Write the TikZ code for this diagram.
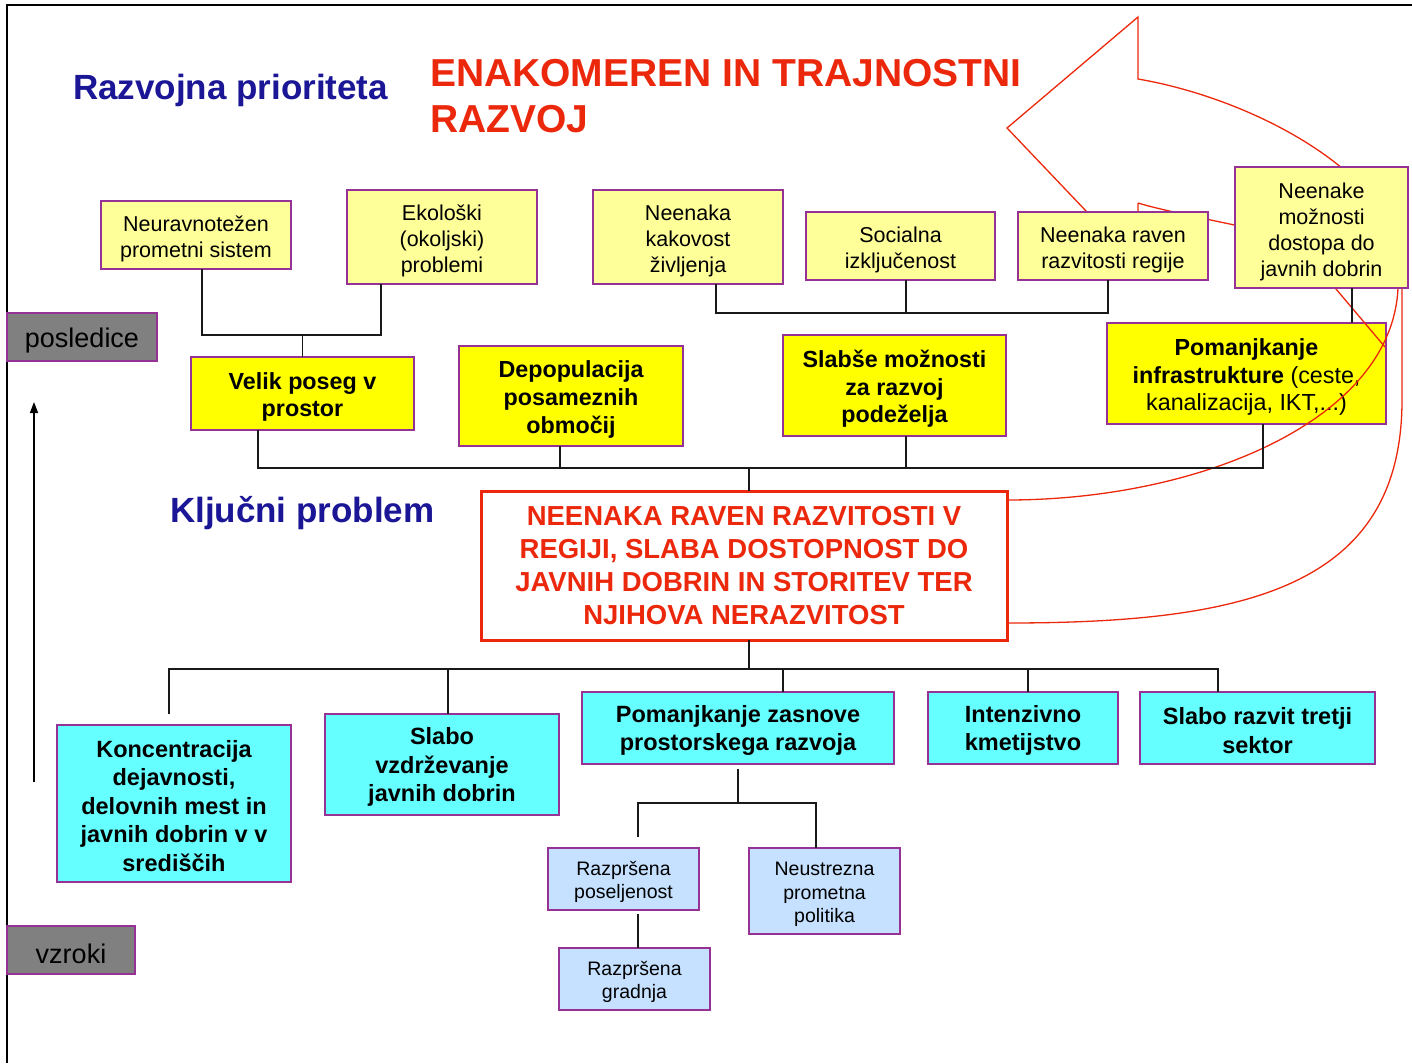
\documentclass[tikz,border=0pt]{standalone}
\usepackage{fontspec}
\setmainfont{Liberation Sans}
\usetikzlibrary{arrows.meta}
\definecolor{lyel}{RGB}{255,255,153}
\definecolor{yel}{RGB}{255,255,0}
\definecolor{cyanc}{RGB}{102,255,255}
\definecolor{lblue}{RGB}{197,225,255}
\definecolor{boxc}{RGB}{150,50,150}
\definecolor{grayc}{RGB}{128,128,128}
\definecolor{redc}{RGB}{236,40,12}
\definecolor{bluec}{RGB}{26,22,150}
\newcommand{\fsz}[2]{\fontsize{#1}{#2}\selectfont}
\newcommand{\tst}{}
\begin{document}
\begin{tikzpicture}[x=1pt,y=-1pt,
  box/.style={draw=boxc,line width=1.5pt,inner sep=0pt,outer sep=0pt,align=center,text=black},
  lyb/.style={box,fill=lyel,font={\fsz{21.5}{26}\def\tst{\rule{0pt}{24pt}}}},
  yb/.style={box,fill=yel,font={\bfseries\fsz{23.3}{27.8}\def\tst{\rule{0pt}{24pt}}}},
  cb/.style={box,fill=cyanc,font={\bfseries\fsz{23.5}{28.5}\def\tst{\rule{0pt}{22pt}}}},
  bb/.style={box,fill=lblue,font={\fsz{19.5}{23.5}\def\tst{\rule{0pt}{20.5pt}}}},
  gb/.style={box,fill=grayc,font={\fsz{27}{32}\def\tst{\rule{0pt}{27.5pt}}}},
  conn/.style={draw=black!90,line width=1.5pt},
  redline/.style={draw=redc,line width=1.3pt,line join=miter},
  title/.style={inner sep=0pt,outer sep=0pt,anchor=base west,align=left}
]
\useasboundingbox (0,0) rectangle (1412,1063);
\fill[white] (0,0) rectangle (1412,1063);

% frame
\coordinate (fBL) at (7,1063);
\coordinate (fTL) at (7,5);
\coordinate (fTR) at (1412,5);
\draw[line width=2pt] (fBL) -- (fTL) -- (fTR);

% titles
\node[title,text=bluec,font=\bfseries\fsz{35}{40}] (t1) at (73,99) {Razvojna prioriteta};
\node[title,text=redc,font=\bfseries\fsz{39}{46}] (t2) at (430,132) {ENAKOMEREN IN TRAJNOSTNI\\RAZVOJ};
\node[title,text=bluec,font=\bfseries\fsz{35}{40}] (t3) at (170,522) {Klju\v{c}ni problem};

% consequences (top row)
\node[lyb,minimum width=190pt,minimum height=68pt] (neur) at (196,235) {\tst Neuravnote\v{z}en\\prometni sistem};
\node[lyb,minimum width=190pt,minimum height=94pt] (eko) at (442,237) {\tst Ekolo\v{s}ki\\(okoljski)\\problemi};
\node[lyb,minimum width=190pt,minimum height=94pt] (kak) at (688,237) {\tst Neenaka\\kakovost\\\v{z}ivljenja};
\node[lyb,minimum width=189pt,minimum height=68pt] (soc) at (900.5,246) {\tst Socialna\\izklju\v{c}enost};

% middle row
\node[yb,minimum width=223pt,minimum height=73pt] (velik) at (302.5,393.5) {\tst Velik poseg v\\prostor};
\node[yb,minimum width=224pt,minimum height=100pt] (depop) at (571,396) {\tst Depopulacija\\posameznih\\obmo\v{c}ij};
\node[yb,minimum width=223pt,minimum height=101pt] (slab) at (894.5,385.5) {\tst Slab\v{s}e mo\v{z}nosti\\za razvoj\\pode\v{z}elja};
\node[yb,minimum width=279pt,minimum height=101pt] (infra) at (1246.5,373.5) {\tst Pomanjkanje\\infrastrukture \mdseries(ceste,\\\mdseries kanalizacija, IKT,...)};

% key problem
\node[box,draw=redc,line width=3pt,fill=white,text=redc,font=\bfseries\fsz{27.5}{33},minimum width=526pt,minimum height=149pt] (main) at (744,565.5)
  {NEENAKA RAVEN RAZVITOSTI V\\REGIJI, SLABA DOSTOPNOST DO\\JAVNIH DOBRIN IN STORITEV TER\\NJIHOVA NERAZVITOST};

% causes
\node[cb,minimum width=234pt,minimum height=157pt] (konc) at (174,803.5) {\tst Koncentracija\\dejavnosti,\\delovnih mest in\\javnih dobrin v v\\sredi\v{s}\v{c}ih};
\node[cb,minimum width=234pt,minimum height=101pt] (vzd) at (442,764.5) {\tst Slabo\\vzdr\v{z}evanje\\javnih dobrin};
\node[cb,minimum width=312pt,minimum height=72pt] (zas) at (738,728) {\tst Pomanjkanje zasnove\\prostorskega razvoja};
\node[cb,minimum width=190pt,minimum height=72pt] (kme) at (1023,728) {\tst Intenzivno\\kmetijstvo};
\node[cb,minimum width=235pt,minimum height=72pt] (tret) at (1257.5,728) {\tst Slabo razvit tretji\\sektor};
\node[bb,minimum width=151pt,minimum height=62pt] (posel) at (623.5,879) {\tst Razpr\v{s}ena\\poseljenost};
\node[bb,minimum width=151pt,minimum height=86pt] (neus) at (824.5,891) {\tst Neustrezna\\prometna\\politika};
\node[bb,minimum width=151pt,minimum height=62pt] (grad) at (634.5,979) {\tst Razpr\v{s}ena\\gradnja};

% side labels
\node[gb,minimum width=150pt,minimum height=48pt] (posl) at (82,337) {\tst posledice};
\node[gb,minimum width=128pt,minimum height=48pt] (vzr) at (71,950) {\tst vzroki};

% red curved arrow
\draw[redline] (1138,203) -- (1138,265.6) -- (1007,128) -- (1138,17) -- (1138,79)
  .. controls (1260,100) and (1402,180) .. (1402,270) -- (1402,400)
  .. controls (1402,590) and (1240,623) .. (1007,623);
\draw[redline] (1138,203) .. controls (1200,222) and (1405,250) .. (1398,288)
  .. controls (1392,420) and (1200,500) .. (1007,500);
\draw[redline] (1325,276) -- (1385,347);

% boxes drawn over the arrow
\node[lyb,minimum width=190pt,minimum height=68pt] (rav) at (1113,246) {\tst Neenaka raven\\razvitosti regije};
\node[lyb,minimum width=173pt,minimum height=121pt] (neen) at (1321.5,227.5) {\tst Neenake\\mo\v{z}nosti\\dostopa do\\javnih dobrin};

% connectors: group A
\coordinate (bA) at (302.5,335);
\coordinate (cNeur) at ([xshift=6pt]neur.south);
\coordinate (cEko) at ([xshift=-61pt]eko.south);
\draw[conn] (cNeur) |- (bA) -| (cEko);
\draw[conn] (bA) -- (velik.north);
% group B
\coordinate (bB) at (906,313);
\coordinate (cKak) at ([xshift=28pt]kak.south);
\coordinate (cRav) at ([xshift=-5pt]rav.south);
\coordinate (cSoc) at ([xshift=5.5pt]soc.south);
\draw[conn] (cKak) |- (bB) -| (cRav);
\draw[conn] (cSoc) -- (bB);
% group C
\coordinate (bC) at (749,468);
\coordinate (cVel) at ([xshift=-44.5pt]velik.south);
\coordinate (cInf) at ([xshift=16.5pt]infra.south);
\coordinate (cDep) at ([xshift=-11pt]depop.south);
\coordinate (cSla) at ([xshift=11.5pt]slab.south);
\coordinate (cMainN) at ([xshift=5pt]main.north);
\draw[conn] (cVel) |- (bC) -| (cInf);
\draw[conn] (cDep) -- (cDep |- bC);
\draw[conn] (cSla) -- (cSla |- bC);
\draw[conn] (bC) -- (cMainN);
\coordinate (cNeen) at ([xshift=30.5pt]neen.south);
\draw[conn] (cNeen) -- (cNeen |- infra.north);
% group D
\coordinate (bD) at (749,669);
\coordinate (cMainS) at ([xshift=5pt]main.south);
\coordinate (cKon) at (169,714);
\coordinate (cTre) at ([xshift=-39.5pt]tret.north);
\coordinate (cVzd) at ([xshift=6pt]vzd.north);
\coordinate (cZas) at ([xshift=45pt]zas.north);
\coordinate (cKme) at ([xshift=5pt]kme.north);
\draw[conn] (cMainS) -- (bD);
\draw[conn] (cKon) |- (bD) -| (cTre);
\draw[conn] (cVzd) -- (cVzd |- bD);
\draw[conn] (cZas) -- (cZas |- bD);
\draw[conn] (cKme) -- (cKme |- bD);
% group E
\coordinate (cZasS) at (738,769);
\coordinate (bE) at (738,803);
\coordinate (cPos) at (638,837);
\coordinate (cNeus) at ([xshift=-8.5pt]neus.north);
\draw[conn] (cZasS) -- (bE);
\draw[conn] (cPos) |- (bE) -| (cNeus);
\coordinate (cPos2) at (638,914);
\coordinate (cGrad) at ([xshift=3.5pt]grad.north);
\draw[conn] (cPos2) -- (cGrad);

% vertical arrow
\coordinate (arB) at (34,782);
\coordinate (arT) at (34,402);
\draw[line width=1.5pt,-{Triangle[length=11pt,width=8pt]}] (arB) -- (arT);
\end{tikzpicture}
\end{document}
